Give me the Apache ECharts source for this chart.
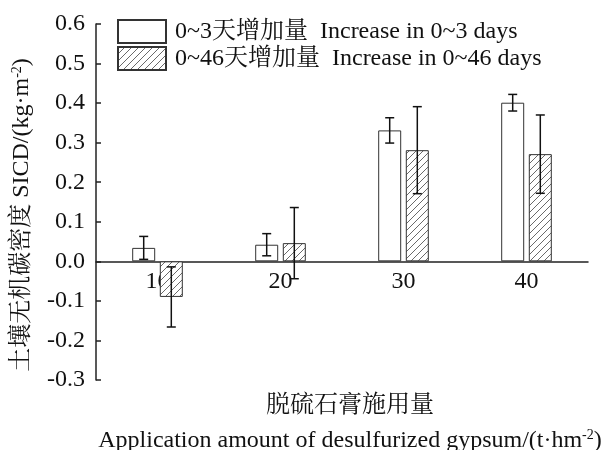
<!DOCTYPE html>
<html>
<head>
<meta charset="utf-8">
<script src="https://cdn.jsdelivr.net/npm/echarts@6/dist/echarts.min.js"></script>
<style>
html,body{margin:0;padding:0;background:#fff;}
#chart{width:606px;height:450px;}
</style>
</head>
<body>
<div id="chart"></div>
<script>
// ---- data ----
var categories = ['10', '20', '30', '40'];
var inc3 = [0.034, 0.042, 0.331, 0.401];
var inc3Err = [0.029, 0.028, 0.032, 0.021];
var inc46 = [-0.090, 0.046, 0.281, 0.271];
var inc46Err = [0.076, 0.090, 0.110, 0.099];
var seriesNames = ['0~3天增加量  Increase in 0~3 days', '0~46天增加量  Increase in 0~46 days'];
var yTicks = [-0.3, -0.2, -0.1, 0.0, 0.1, 0.2, 0.3, 0.4, 0.5, 0.6];

var FONT = "'Liberation Serif', 'Times New Roman', 'Noto Serif CJK SC', 'Noto Sans CJK SC', serif";
var FS = 24;
var BAR_W = 23;
var BAR_GAP = 0.2;
var OFFSET = (BAR_W * (1 + BAR_GAP)) / 2;
var Y_MIN = yTicks[0], Y_MAX = yTicks[yTicks.length - 1];
var GRID_TOP = 24, GRID_BOTTOM = 70, CHART_H = 450;

// hatch pattern
var tile = document.createElement('canvas');
tile.width = 7; tile.height = 7;
var g = tile.getContext('2d');
g.fillStyle = '#fff';
g.fillRect(0, 0, 7, 7);
g.strokeStyle = '#6a6a6a';
g.lineWidth = 1;
g.beginPath();
g.moveTo(-1, 8); g.lineTo(8, -1);
g.moveTo(-1, 1); g.lineTo(1, -1);
g.moveTo(6, 8); g.lineTo(8, 6);
g.stroke();
var hatch = { image: tile, repeat: 'repeat' };

// distance from grid bottom to the zero line (x axis sits on zero)
var plotH = CHART_H - GRID_TOP - GRID_BOTTOM;
var zeroLift = plotH * (0 - Y_MIN) / (Y_MAX - Y_MIN);

function errData(vals, errs) {
  return vals.map(function (v, i) { return [i, v, errs[i]]; });
}
function makeErr(offset) {
  return function (params, api) {
    var i = api.value(0), v = api.value(1), e = api.value(2);
    var top = api.coord([i, v + e]);
    var bot = api.coord([i, v - e]);
    var x = top[0] + offset;
    var cap = 4.5;
    var style = { stroke: '#111', lineWidth: 1.5 };
    return {
      type: 'group',
      children: [
        { type: 'line', shape: { x1: x, y1: top[1], x2: x, y2: bot[1] }, style: style },
        { type: 'line', shape: { x1: x - cap, y1: top[1], x2: x + cap, y2: top[1] }, style: style },
        { type: 'line', shape: { x1: x - cap, y1: bot[1], x2: x + cap, y2: bot[1] }, style: style }
      ]
    };
  };
}

var chart = echarts.init(document.getElementById('chart'), null, { renderer: 'canvas' });
chart.setOption({
  backgroundColor: '#fff',
  animation: false,
  textStyle: { fontFamily: FONT, color: '#111' },
  grid: { left: 96, right: 18, top: GRID_TOP, bottom: GRID_BOTTOM, containLabel: false, outerBoundsMode: 'none' },
  legend: {
    left: 112, top: 14, orient: 'vertical', itemGap: 2,
    itemWidth: 48, itemHeight: 23,
    textStyle: { fontFamily: FONT, fontSize: FS, color: '#111', padding: [0, 0, 0, 4] },
    data: [
      { name: seriesNames[0], icon: 'rect' },
      { name: seriesNames[1], icon: 'rect' }
    ]
  },
  xAxis: {
    type: 'category',
    data: categories,
    axisLine: { onZero: true, lineStyle: { color: '#222', width: 1.5 } },
    axisTick: { inside: true, length: 3, lineStyle: { color: '#222', width: 1.5 } },
    axisLabel: { fontFamily: FONT, fontSize: FS, color: '#111', margin: 8 - zeroLift },
    name: '脱硫石膏施用量\nApplication amount of desulfurized gypsum/(t·hm{sup|-2})',
    nameLocation: 'middle',
    nameGap: 8,
    nameTextStyle: {
      fontFamily: FONT, fontSize: FS, color: '#111', lineHeight: 35,
      padding: [0, 0, 0, 16],
      rich: { sup: { fontFamily: FONT, fontSize: 14, verticalAlign: 'top', lineHeight: 35, padding: [5, 0, 0, 0] } }
    },
    splitLine: { show: false }
  },
  yAxis: {
    type: 'value',
    min: Y_MIN, max: Y_MAX, interval: 0.1,
    axisLine: { show: true, onZero: false, lineStyle: { color: '#222', width: 1.5 } },
    axisTick: { show: true, inside: true, length: 5, lineStyle: { color: '#222', width: 1.5 } },
    axisLabel: {
      fontFamily: FONT, fontSize: FS, color: '#111', margin: 11,
      formatter: function (v) { return (Math.round(v * 10) / 10).toFixed(1); }
    },
    splitLine: { show: false },
    name: '土壤无机碳密度 SICD/(kg·m{sup|-2})',
    nameLocation: 'middle',
    nameGap: 62,
    nameTextStyle: {
      fontFamily: FONT, fontSize: FS, color: '#111',
      padding: [0, 26, 0, 0],
      rich: { sup: { fontFamily: FONT, fontSize: 14, verticalAlign: 'top', padding: [0, 0, 8, 0] } }
    }
  },
  series: [
    {
      name: seriesNames[0], type: 'bar', data: inc3,
      barWidth: BAR_W, barGap: (BAR_GAP * 100) + '%',
      itemStyle: { color: '#fff', borderColor: '#333', borderWidth: 1 },
      z: 2
    },
    {
      name: seriesNames[1], type: 'bar', data: inc46,
      barWidth: BAR_W,
      itemStyle: { color: hatch, borderColor: '#333', borderWidth: 1 },
      z: 2
    },
    {
      type: 'custom', name: 'err3', data: errData(inc3, inc3Err),
      renderItem: makeErr(-OFFSET), z: 5, silent: true,
      encode: { x: 0, y: 1 }
    },
    {
      type: 'custom', name: 'err46', data: errData(inc46, inc46Err),
      renderItem: makeErr(OFFSET), z: 5, silent: true,
      encode: { x: 0, y: 1 }
    }
  ]
});
</script>
</body>
</html>
